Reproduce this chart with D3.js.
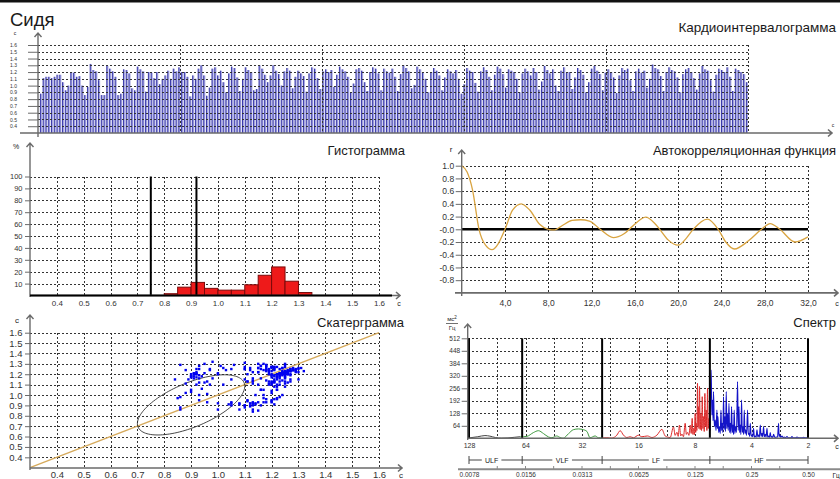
<!DOCTYPE html>
<html>
<head>
<meta charset="utf-8">
<script src="https://cdn.jsdelivr.net/npm/d3@7"></script>
<style>
body { margin: 0; background: #fff; }
svg { display: block; font-family: "Liberation Sans", Arial, sans-serif; }
.grid line { stroke: #333; stroke-dasharray: 2,2; stroke-width: 1; shape-rendering: crispEdges; }
</style>
</head>
<body>
<svg id="chart" width="840" height="479"></svg>
<script>
// RR intervals, s (cardiointervalogram)
const rr = [
0.88,1.11,1.13,1.13,1.11,1.13,1.16,1.16,1.05,0.93,
1.00,1.20,1.19,1.13,1.14,1.00,0.86,0.98,1.32,1.23,
1.21,1.08,0.86,0.86,1.29,1.25,1.21,1.13,0.86,0.88,
1.24,1.23,1.18,0.96,0.93,1.28,1.24,1.21,0.91,1.20,
1.19,1.11,1.20,1.02,1.10,1.15,1.22,1.10,1.25,1.21,
1.27,1.20,1.20,1.13,0.84,1.15,1.10,1.25,1.30,1.15,
0.85,0.97,1.25,1.27,1.15,1.22,1.05,0.90,1.18,1.28,
1.26,1.12,0.92,1.10,1.27,1.23,1.20,0.93,0.95,1.30,
1.25,1.16,1.05,1.15,1.30,1.22,1.17,1.00,1.21,1.26,
1.22,0.96,1.13,1.22,1.18,1.14,0.91,1.18,1.27,1.25,
1.11,0.95,1.21,1.24,1.20,1.23,0.98,1.16,1.28,1.24,
1.21,1.13,0.90,1.03,1.24,1.26,1.22,1.05,0.92,1.20,
1.27,1.25,1.18,0.93,1.25,1.21,1.19,1.25,1.13,0.92,
1.17,1.30,1.26,1.21,0.96,1.01,1.28,1.24,1.19,1.10,
0.90,1.20,1.26,1.22,1.15,0.93,1.12,1.24,1.21,1.18,
1.23,1.10,0.88,1.02,1.26,1.22,1.20,1.04,0.91,1.21,
1.27,1.23,1.13,0.93,1.16,1.28,1.25,1.17,0.97,1.24,
1.22,1.20,1.10,0.90,1.18,1.25,1.21,1.15,1.26,1.20,
0.94,1.06,1.29,1.23,1.18,1.24,1.00,0.92,1.22,1.27,
1.19,1.20,0.95,1.12,1.26,1.23,1.16,0.90,1.05,1.25,
1.29,1.22,1.17,0.93,1.19,1.24,1.20,1.12,0.89,1.15,
1.26,1.23,1.25,1.08,0.92,1.21,1.25,1.19,1.22,0.97,
1.10,1.31,1.26,1.24,1.14,0.92,1.20,1.27,1.23,1.21,
1.12,0.90,1.17,1.24,1.26,1.20,1.11,0.94,1.18,1.29,
1.24,1.22,1.08,0.91,1.16,1.25,1.23,1.20,1.27,1.13,
0.92,1.25,1.23,1.20,1.17,1.05
];
const topTicks = [0.4,0.5,0.6,0.7,0.8,0.9,1.0,1.1,1.2,1.3,1.4,1.5,1.6];
const topTimeTicks = [60,120,180,240,300];

// histogram: bin starts (s), share (%)
const histBins = [0.80,0.85,0.90,0.95,1.00,1.05,1.10,1.15,1.20,1.25,1.30];
const histValues = [1.5,7,11,6,4.5,4.5,9,17,24,12,2.5];
const histMarkers = [0.75, 0.92];
const histYTicks = [10,20,30,40,50,60,70,80,90,100];
const secTicks = [0.4,0.5,0.6,0.7,0.8,0.9,1.0,1.1,1.2,1.3,1.4,1.5,1.6];

// autocorrelation
const acfLags = [0,0.5,1.0,1.6,2.2,2.8,3.4,4.0,4.7,5.5,6.3,7.2,8.0,8.6,9.3,10.2,11.0,11.8,12.8,14.0,15.0,15.8,17.0,17.8,18.3,19.1,20.0,20.8,21.4,22.7,23.7,24.4,25.2,26.5,27.7,28.5,29.4,30.8,32.0];
const acfValues = [1.0,0.9,0.62,0.0,-0.25,-0.32,-0.22,0.0,0.30,0.40,0.30,0.08,0.0,-0.01,0.06,0.14,0.15,0.13,0.0,-0.13,-0.07,0.05,0.19,0.10,0.0,-0.17,-0.25,-0.13,0.0,0.16,0.0,-0.2,-0.31,-0.18,0.0,0.09,0.0,-0.2,-0.12];
const acfYTicks = [-0.8,-0.6,-0.4,-0.2,0,0.2,0.4,0.6,0.8,1.0];
const acfXTicks = [4,8,12,16,20,24,28,32];

// scattergram ellipse: centre, half-widths, phase
const ellipse = { cx: 0.90, cy: 0.905, rx: 0.20, ry: 0.29, phase: 0.9 };

// spectrum [frequency Hz, ms2/Hz] per band
const ulf = [[0.00781,2],[0.0087,8],[0.0095,14],[0.0101,11],[0.0108,4],[0.0116,1],[0.0126,2],[0.0136,5],[0.0146,8]];
const vlf = [[0.0146,7],[0.0159,10],[0.0172,29],[0.0183,39],[0.0195,24],[0.0207,7],[0.0216,3],[0.0229,12],[0.0239,4],[0.0248,0],[0.0265,24],[0.0281,44],[0.0299,48],[0.0318,44],[0.0332,35],[0.0345,3],[0.0367,12],[0.0382,3],[0.0399,2]];
const lf = [[0.0399,2],[0.0424,3],[0.0451,1],[0.0479,16],[0.0499,39],[0.0520,16],[0.0542,4],[0.0564,8],[0.0588,3],[0.0625,16],[0.0651,8],[0.0697,12],[0.0737,4],[0.0783,16],[0.0833,46],[0.0867,12],[0.0922,4],[0.0960,58],[0.0980,15],[0.1001,31],[0.1017,10],[0.1033,68],[0.1049,12],[0.1065,22],[0.1085,8],[0.1108,77],[0.1124,20],[0.1140,31],[0.1160,15],[0.1179,68],[0.1193,25],[0.1208,102],[0.1218,20],[0.1227,51],[0.1240,18],[0.1253,128],[0.1261,30],[0.1268,77],[0.1279,40],[0.1289,282],[0.1297,60],[0.1305,162],[0.1313,50],[0.1321,265],[0.1333,45],[0.1344,128],[0.1355,40],[0.1366,213],[0.1377,50],[0.1388,111],[0.1400,35],[0.1411,230],[0.1423,60],[0.1434,145],[0.1446,40],[0.1458,257],[0.1470,50],[0.1482,102],[0.1500,40]];
const hf = [[0.1500,40],[0.1525,350],[0.1537,120],[0.1550,196],[0.1560,90],[0.1569,239],[0.1585,60],[0.1602,94],[0.1618,40],[0.1636,145],[0.1646,50],[0.1656,111],[0.1672,30],[0.1689,60],[0.1704,25],[0.1719,145],[0.1732,40],[0.1746,77],[0.1760,30],[0.1774,213],[0.1790,45],[0.1805,111],[0.1820,35],[0.1834,239],[0.1848,50],[0.1863,128],[0.1880,40],[0.1896,179],[0.1911,30],[0.1927,77],[0.1942,25],[0.1958,162],[0.1975,30],[0.1991,68],[0.2006,20],[0.2022,145],[0.2038,25],[0.2055,60],[0.2080,30],[0.2107,290],[0.2125,40],[0.2144,162],[0.2160,30],[0.2178,68],[0.2195,20],[0.2213,196],[0.2232,30],[0.2251,60],[0.2270,20],[0.2288,145],[0.2306,25],[0.2325,43],[0.2352,15],[0.2382,145],[0.2403,20],[0.2424,26],[0.2444,10],[0.2463,77],[0.2490,10],[0.2514,17],[0.2540,8],[0.2563,51],[0.2590,6],[0.2617,12],[0.2645,5],[0.2674,43],[0.2700,8],[0.2726,17],[0.2755,6],[0.2784,68],[0.2810,10],[0.2842,26],[0.2870,8],[0.2898,60],[0.2930,8],[0.2960,21],[0.2990,6],[0.3023,51],[0.3050,6],[0.3082,12],[0.3115,4],[0.3147,29],[0.3180,5],[0.3213,9],[0.3245,4],[0.3278,21],[0.3330,4],[0.3388,7],[0.3440,5],[0.3485,77],[0.3505,8],[0.3527,21],[0.3580,5],[0.3632,12],[0.3690,3],[0.3737,7],[0.3800,3],[0.3864,9],[0.3930,2],[0.3989,3],[0.4050,2],[0.4107,9],[0.4170,2],[0.4225,3],[0.4300,2],[0.4368,7],[0.4460,2],[0.4550,3],[0.4640,2],[0.4738,5],[0.4840,2],[0.4940,2],[0.5000,1]];
const bandEdges = [0.0078125, 0.015, 0.04, 0.15, 0.5];
const bandNames = ["ULF", "VLF", "LF", "HF"];
const bandColors = ["#444", "#3f9a3f", "#dd2b2b", "#1414c8"];
const spYTicks = [64,128,192,256,320,384,448,512];
const periodTicks = [128,64,32,16,8,4,2];
const gridPeriods = [90.5,64,45.3,32,22.6,16,11.3,8,5.66,4,2.83];
const freqLabels = ["0.0078","0.0156","0.0313","0.0625","0.125","0.25","0.50"];

const svg = d3.select("#chart");
const axisColor = "#6b6b6b";

function gridH(vals, y, x0, x1) {
  svg.append("g").attr("class", "grid").selectAll("line").data(vals).join("line")
    .attr("x1", x0).attr("x2", x1)
    .attr("y1", d => Math.round(y(d)) + 0.5).attr("y2", d => Math.round(y(d)) + 0.5);
}
function gridV(vals, x, y0, y1) {
  svg.append("g").attr("class", "grid").selectAll("line").data(vals).join("line")
    .attr("y1", y0).attr("y2", y1)
    .attr("x1", d => Math.round(x(d)) + 0.5).attr("x2", d => Math.round(x(d)) + 0.5);
}
function arrowUp(x, y0, y1) {
  svg.append("path").attr("d", `M${x},${y0}V${y1}M${x - 3.5},${y1 + 4}L${x},${y1}L${x + 3.5},${y1 + 4}`)
    .attr("fill", "none").attr("stroke", axisColor).attr("stroke-width", 1.4);
}
function arrowRight(y, x0, x1) {
  svg.append("path").attr("d", `M${x0},${y}H${x1}M${x1 - 4},${y - 3.5}L${x1},${y}L${x1 - 4},${y + 3.5}`)
    .attr("fill", "none").attr("stroke", axisColor).attr("stroke-width", 1.6);
}
function text(x, y, t, size, anchor) {
  return svg.append("text").attr("x", x).attr("y", y).attr("font-size", size)
    .attr("text-anchor", anchor || "start").attr("fill", "#1a1a1a").text(t);
}
function styleAxis(g, size) {
  g.attr("font-size", size).attr("font-family", null);
  g.select(".domain").remove();
  g.selectAll(".tick line").attr("stroke", axisColor);
  g.selectAll(".tick text").attr("fill", "#333");
}

svg.append("rect").attr("x", 0).attr("y", 0).attr("width", 840).attr("height", 2.5).attr("fill", "#111");

// ---- cardiointervalogram
const yTop = d3.scaleLinear().domain([0.3, 1.6]).range([133, 45]);
const tTop = d3.scaleLinear().domain([0, 300]).range([38, 748]);
const xBar = d3.scaleLinear().domain([0, rr.length - 1]).range([40, 746]);

const bars = svg.append("g");
bars.selectAll("rect").data(rr).join("rect")
  .attr("x", (d, i) => xBar(i)).attr("y", d => yTop(d))
  .attr("width", 2).attr("height", d => yTop(0.3) - yTop(d))
  .attr("fill", "#a9a9e2");
bars.selectAll("line").data(rr).join("line")
  .attr("x1", (d, i) => xBar(i) + 0.4).attr("x2", (d, i) => xBar(i) + 0.4)
  .attr("y1", d => yTop(d)).attr("y2", yTop(0.3))
  .attr("stroke", "#2d2da3").attr("stroke-width", 0.9);

gridH(topTicks, yTop, 38, 748);
gridV(topTimeTicks, tTop, 45, 133);
svg.append("g").attr("transform", "translate(38,0)")
  .call(d3.axisLeft(yTop).tickValues(topTicks).tickSize(10).tickPadding(11).tickFormat(d3.format(".1f")))
  .call(g => styleAxis(g, 5));
arrowUp(38, 137, 33);
arrowRight(133, 20, 832);
text(15, 35, "с", 5, "middle");
text(833, 127, "с", 5, "middle");
text(10, 26, "Сидя", 18.5);
text(836, 32, "Кардиоинтервалограмма", 13.5, "end");

// ---- histogram
const xHist = d3.scaleLinear().domain([0.3, 1.6]).range([30, 379]);
const yHist = d3.scaleLinear().domain([0, 100]).range([295.5, 176.5]);
gridH(histYTicks, yHist, 30, 379);
gridV(secTicks, xHist, 176.5, 295.5);
svg.append("g").selectAll("rect").data(histBins).join("rect")
  .attr("x", d => xHist(d)).attr("width", d => xHist(d + 0.05) - xHist(d))
  .attr("y", (d, i) => yHist(histValues[i])).attr("height", (d, i) => yHist(0) - yHist(histValues[i]))
  .attr("fill", "#ee1a1a").attr("stroke", "#7a0a0a").attr("stroke-width", 1);
svg.append("g").selectAll("line").data(histMarkers).join("line")
  .attr("x1", d => xHist(d)).attr("x2", d => xHist(d))
  .attr("y1", yHist(0)).attr("y2", yHist(100))
  .attr("stroke", "#000").attr("stroke-width", 2);
arrowUp(30, 297, 143);
arrowRight(295.5, 30, 400);
svg.append("line").attr("x1", 30).attr("x2", 392).attr("y1", yHist(0)).attr("y2", yHist(0))
  .attr("stroke", "#000").attr("stroke-width", 2);
svg.append("g").attr("transform", "translate(30,0)")
  .call(d3.axisLeft(yHist).tickValues(histYTicks).tickSize(5).tickPadding(2.5))
  .call(g => styleAxis(g, 7.5));
svg.append("g").attr("transform", `translate(0,${yHist(0)})`)
  .call(d3.axisBottom(xHist).tickValues(secTicks).tickSize(0).tickPadding(5).tickFormat(d3.format(".1f")))
  .call(g => styleAxis(g, 8));
text(16, 149, "%", 7, "middle");
text(399, 306, "с", 7, "middle");
text(405, 155, "Гистограмма", 13, "end");

// ---- autocorrelation
const xAcf = d3.scaleLinear().domain([0, 32]).range([461.7, 808]);
const yAcf = d3.scaleLinear().domain([-1, 1]).range([292.9, 165.7]);
gridH(acfYTicks.filter(d => d !== 0), yAcf, 461.7, 808);
gridV(acfXTicks, xAcf, 165.7, 292.9);
svg.append("line").attr("x1", 461.7).attr("x2", 808).attr("y1", yAcf(0)).attr("y2", yAcf(0))
  .attr("stroke", "#000").attr("stroke-width", 2.6);
svg.append("path").datum(acfLags.map((l, i) => [l, acfValues[i]]))
  .attr("d", d3.line().x(d => xAcf(d[0])).y(d => yAcf(d[1])).curve(d3.curveMonotoneX))
  .attr("fill", "none").attr("stroke", "#d9a441").attr("stroke-width", 1.3);
arrowUp(461.7, 296, 150);
arrowRight(292.9, 455, 838);
svg.append("g").attr("transform", "translate(461.7,0)")
  .call(d3.axisLeft(yAcf).tickValues(acfYTicks).tickSize(6).tickPadding(1.5)
    .tickFormat(d => d === 0 ? "-0.0" : d.toFixed(1)))
  .call(g => styleAxis(g, 8.5));
svg.append("g").attr("transform", `translate(0,${yAcf(-1)})`)
  .call(d3.axisBottom(xAcf).tickValues(acfXTicks).tickSize(0).tickPadding(7)
    .tickFormat(d => d.toFixed(1).replace(".", ",")))
  .call(g => styleAxis(g, 8.5));
text(451, 152, "r", 8, "middle");
text(837, 306, "с", 7, "middle");
text(836, 155, "Автокорреляционная функция", 13, "end");

// ---- scattergram
const xSc = d3.scaleLinear().domain([0.3, 1.6]).range([30, 379]);
const ySc = d3.scaleLinear().domain([0.3, 1.6]).range([467.7, 332.7]);
gridH(secTicks, ySc, 30, 379);
gridV(secTicks, xSc, 332.7, 467.7);
svg.append("line").attr("x1", xSc(0.3)).attr("y1", ySc(0.3)).attr("x2", xSc(1.6)).attr("y2", ySc(1.6))
  .attr("stroke", "#d6aa5c").attr("stroke-width", 1.3);
const ellPts = d3.range(0, 2 * Math.PI + 0.05, 0.05)
  .map(t => [ellipse.cx + ellipse.rx * Math.cos(t), ellipse.cy + ellipse.ry * Math.cos(t - ellipse.phase)]);
svg.append("path").datum(ellPts)
  .attr("d", d3.line().x(d => xSc(d[0])).y(d => ySc(d[1])).curve(d3.curveBasisClosed))
  .attr("fill", "none").attr("stroke", "#333").attr("stroke-width", 0.9);
const pairs = rr.slice(1).map((v, i) => [rr[i], v]);
svg.append("g").selectAll("rect").data(pairs).join("rect")
  .attr("x", d => xSc(d[0]) - 1.2).attr("y", d => ySc(d[1]) - 1.2)
  .attr("width", 2.4).attr("height", 2.4).attr("fill", "#0000f0");
arrowUp(30, 470, 315);
arrowRight(468, 30, 402);
svg.append("g").attr("transform", "translate(30,0)")
  .call(d3.axisLeft(ySc).tickValues(secTicks).tickSize(5).tickPadding(2.5).tickFormat(d3.format(".1f")))
  .call(g => styleAxis(g, 9.5));
svg.append("g").attr("transform", "translate(0,468)")
  .call(d3.axisBottom(xSc).tickValues(secTicks).tickSize(0).tickPadding(3).tickFormat(d3.format(".1f")))
  .call(g => styleAxis(g, 9.5));
text(17, 323, "с", 8, "middle");
text(401, 478, "с", 8, "middle");
text(404, 327, "Скатерграмма", 13, "end");

// ---- spectrum
const xSp = d3.scaleLog().base(2).domain([1 / 128, 0.5]).range([469, 808]);
const ySp = d3.scaleLinear().domain([0, 512]).range([438.3, 338.3]);
gridH(spYTicks, ySp, 467.7, 808);
gridV(gridPeriods.map(p => 1 / p), xSp, 338.3, 438.3);
const spLine = d3.line().x(d => xSp(d[0])).y(d => ySp(d[1])).curve(d3.curveMonotoneX);
[ulf, vlf, lf, hf].forEach((band, i) => {
  svg.append("path").datum(band).attr("d", spLine)
    .attr("fill", "none").attr("stroke", bandColors[i]).attr("stroke-width", i === 3 ? 1.1 : 1);
});
svg.append("g").selectAll("line").data(bandEdges).join("line")
  .attr("x1", d => xSp(d)).attr("x2", d => xSp(d))
  .attr("y1", ySp(0)).attr("y2", ySp(512))
  .attr("stroke", "#000").attr("stroke-width", 2);
arrowUp(467.7, 440, 324);
arrowRight(438.3, 467.7, 838);
svg.append("g").attr("transform", "translate(467.7,0)")
  .call(d3.axisLeft(ySp).tickValues(spYTicks).tickSize(6).tickPadding(1.5))
  .call(g => styleAxis(g, 6.5));
svg.append("g").attr("transform", `translate(0,${ySp(0)})`)
  .call(d3.axisBottom(xSp).tickValues(periodTicks.map(p => 1 / p)).tickSize(0).tickPadding(5)
    .tickFormat((d, i) => periodTicks[i]))
  .call(g => styleAxis(g, 7));
text(837, 449, "с", 7, "middle");

// band scale
svg.append("line").attr("x1", xSp(bandEdges[0])).attr("x2", xSp(0.5)).attr("y1", 460).attr("y2", 460)
  .attr("stroke", "#444").attr("stroke-width", 1);
svg.append("g").selectAll("line").data(bandEdges).join("line")
  .attr("x1", d => xSp(d)).attr("x2", d => xSp(d)).attr("y1", 456).attr("y2", 464)
  .attr("stroke", "#444").attr("stroke-width", 1);
const bandLabels = svg.append("g").selectAll("g").data(bandNames).join("g")
  .attr("transform", (d, i) => `translate(${xSp(Math.sqrt(bandEdges[i] * bandEdges[i + 1])) - (i === 0 ? 4 : 0)},462.5)`);
bandLabels.append("rect").attr("x", d => -d.length * 2.6 - 2).attr("y", -6)
  .attr("width", d => d.length * 5.2 + 4).attr("height", 7).attr("fill", "#fff");
bandLabels.append("text").attr("font-size", 7).attr("text-anchor", "middle").attr("fill", "#222")
  .text(d => d);

// frequency scale
svg.append("line").attr("x1", 458).attr("x2", 840).attr("y1", 469.3).attr("y2", 469.3)
  .attr("stroke", "#8a8a8a").attr("stroke-width", 2);
svg.append("g").attr("transform", "translate(0,469.3)")
  .call(d3.axisBottom(xSp).tickValues(periodTicks.map(p => 1 / p)).tickSize(0).tickPadding(3.5)
    .tickFormat((d, i) => freqLabels[i]))
  .call(g => styleAxis(g, 6.5));
svg.append("g").selectAll("line").data(gridPeriods.map(p => 1 / p)).join("line")
  .attr("x1", d => xSp(d)).attr("x2", d => xSp(d)).attr("y1", 466).attr("y2", 469)
  .attr("stroke", "#8a8a8a");
text(836, 477.5, "Гц", 6.5, "middle");

// units мс²/Гц
text(452, 321, "мс", 6, "middle").append("tspan").attr("dy", -2.5).attr("font-size", 4.5).text("2");
svg.append("line").attr("x1", 446).attr("x2", 458).attr("y1", 323.5).attr("y2", 323.5).attr("stroke", "#333").attr("stroke-width", 0.7);
text(452, 330, "Гц", 6, "middle");
text(836, 327, "Спектр", 13, "end");
</script>
</body>
</html>
